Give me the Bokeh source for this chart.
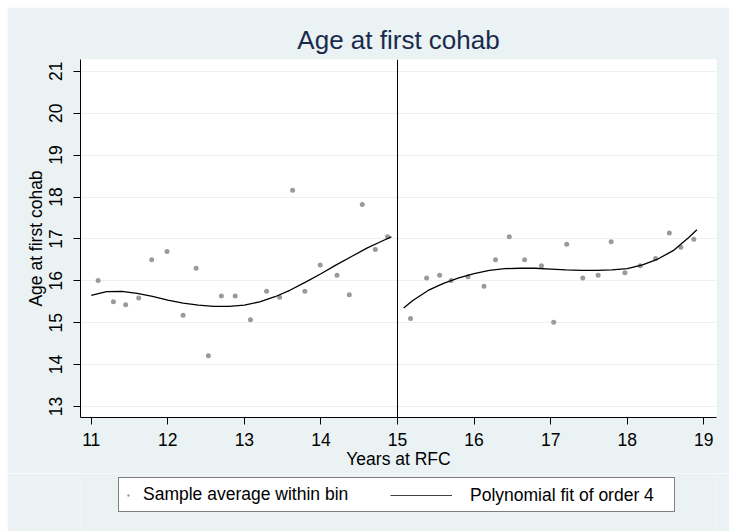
from bokeh.plotting import figure
from bokeh.layouts import column
from bokeh.models import Span, Legend, LegendItem, FixedTicker, Range1d
from bokeh.embed import file_html
from bokeh.resources import INLINE

# ---- data ----
title_text = "Age at first cohab"
x_label = "Years at RFC"
y_label = "Age at first cohab"
cutoff = 15
x_ticks = [11, 12, 13, 14, 15, 16, 17, 18, 19]
y_ticks = [13, 14, 15, 16, 17, 18, 19, 20, 21]

bin_x_left = [11.09, 11.29, 11.45, 11.62, 11.79, 11.99, 12.20, 12.37, 12.53, 12.70, 12.88,
              13.08, 13.29, 13.46, 13.63, 13.79, 13.99, 14.21, 14.37, 14.54, 14.71, 14.87]
bin_y_left = [16.01, 15.50, 15.43, 15.59, 16.50, 16.70, 15.18, 16.30, 14.21, 15.64, 15.64,
              15.07, 15.75, 15.61, 18.16, 15.75, 16.38, 16.13, 15.67, 17.82, 16.75, 17.05]

bin_x_right = [15.17, 15.38, 15.55, 15.70, 15.92, 16.13, 16.28, 16.46, 16.66, 16.88, 17.04,
               17.21, 17.42, 17.62, 17.79, 17.97, 18.17, 18.37, 18.55, 18.70, 18.87]
bin_y_right = [15.10, 16.07, 16.13, 16.01, 16.10, 15.87, 16.50, 17.05, 16.50, 16.36, 15.01,
               16.87, 16.07, 16.13, 16.93, 16.19, 16.36, 16.53, 17.14, 16.80, 16.99]

fit_x_left = [11.0, 11.2, 11.4, 11.6, 11.8, 12.0, 12.2, 12.4, 12.6, 12.8, 13.0,
              13.2, 13.4, 13.6, 13.8, 14.0, 14.2, 14.4, 14.6, 14.8, 14.92]
fit_y_left = [15.65, 15.74, 15.75, 15.70, 15.63, 15.54, 15.47, 15.42, 15.39, 15.39, 15.42,
              15.50, 15.62, 15.78, 15.97, 16.17, 16.38, 16.58, 16.78, 16.95, 17.05]

fit_x_right = [15.08, 15.2, 15.4, 15.6, 15.8, 16.0, 16.2, 16.4, 16.6, 16.8, 17.0,
               17.2, 17.4, 17.6, 17.8, 18.0, 18.2, 18.4, 18.6, 18.8, 18.91]
fit_y_right = [15.35, 15.53, 15.77, 15.94, 16.07, 16.17, 16.25, 16.29, 16.30, 16.30, 16.28,
               16.26, 16.25, 16.25, 16.26, 16.29, 16.38, 16.52, 16.72, 17.03, 17.22]

legend_labels = ["Sample average within bin", "Polynomial fit of order 4"]

# ---- styling ----
BG = "#EAF2F3"
FONT = "Liberation Sans"
FS = "17.5px"
MARK = "#9a9a9a"

p = figure(width=722, height=466, output_backend="svg", toolbar_location=None,
           x_range=Range1d(10.860, 19.166), y_range=Range1d(12.738, 21.282),
           min_border_left=73, min_border_right=13, min_border_top=52, min_border_bottom=56)
p.border_fill_color = BG
p.background_fill_color = "white"
p.outline_line_color = None

p.title.text = title_text
p.title.align = "center"
p.title.text_font = FONT
p.title.text_font_size = "26px"
p.title.text_font_style = "normal"
p.title.text_color = "#1a2b4c"

p.xaxis.ticker = FixedTicker(ticks=x_ticks)
p.yaxis.ticker = FixedTicker(ticks=y_ticks)
p.xaxis.axis_label = x_label
p.yaxis.axis_label = y_label
for ax in (p.xaxis[0], p.yaxis[0]):
    ax.axis_line_color = "black"
    ax.major_tick_line_color = "black"
    ax.major_tick_out = 7
    ax.major_tick_in = 0
    ax.minor_tick_line_color = None
    ax.major_label_text_font = FONT
    ax.major_label_text_font_size = FS
    ax.major_label_text_color = "black"
    ax.axis_label_text_font = FONT
    ax.axis_label_text_font_size = FS
    ax.axis_label_text_font_style = "normal"
    ax.axis_label_text_color = "black"
p.xaxis.major_label_standoff = 8
p.xaxis.axis_label_standoff = 0
p.yaxis.major_label_orientation = "vertical"
p.yaxis.major_label_standoff = 11
p.yaxis.axis_label_standoff = 1

p.xgrid.visible = False
p.ygrid.grid_line_color = BG
p.ygrid.grid_line_width = 1

p.add_layout(Span(location=cutoff, dimension="height", line_color="black", line_width=1))

sc_l = p.scatter(bin_x_left, bin_y_left, size=5, color=MARK, line_color=None)
sc_r = p.scatter(bin_x_right, bin_y_right, size=5, color=MARK, line_color=None)
ln_l = p.line(fit_x_left, fit_y_left, line_color="black", line_width=1.3)
ln_r = p.line(fit_x_right, fit_y_right, line_color="black", line_width=1.3)

# ---- legend strip below the chart (its own figure, so the legend box is not clipped) ----
lg = figure(width=722, height=58, output_backend="svg", toolbar_location=None,
            x_range=Range1d(0, 1), y_range=Range1d(0, 1),
            min_border_left=0, min_border_right=0, min_border_top=0, min_border_bottom=0)
lg.axis.visible = False
lg.grid.visible = False
lg.outline_line_color = None
lg.background_fill_color = BG
lg.border_fill_color = BG
# same series, outside this strip's view: only their legend glyphs show
lsc = lg.scatter(bin_x_left, bin_y_left, size=5, color=MARK, line_color=None)
lln = lg.line(fit_x_left, fit_y_left, line_color="black", line_width=1.3)

leg_a = Legend(items=[LegendItem(label=legend_labels[0], renderers=[lsc])],
               location=(38, 19), orientation="horizontal",
               glyph_width=6, glyph_height=20, label_height=20, label_width=525,
               label_standoff=12, padding=6, margin=0, spacing=0,
               border_line_color="black", border_line_width=1,
               background_fill_color="white", background_fill_alpha=1,
               label_text_font=FONT, label_text_font_size=FS, label_text_color="black")
leg_b = Legend(items=[LegendItem(label=legend_labels[1], renderers=[lln])],
               location=(310, 25), orientation="horizontal",
               glyph_width=62, glyph_height=1, label_height=1,
               label_standoff=18, padding=0, margin=0, spacing=0,
               border_line_color=None, background_fill_alpha=0,
               label_text_font=FONT, label_text_font_size=FS, label_text_color="black")
lg.add_layout(leg_a)
lg.add_layout(leg_b)

layout = column(p, lg, spacing=0)
layout.margin = (7, 0, 0, 7)

open("out.html", "w").write(file_html(layout, INLINE))
